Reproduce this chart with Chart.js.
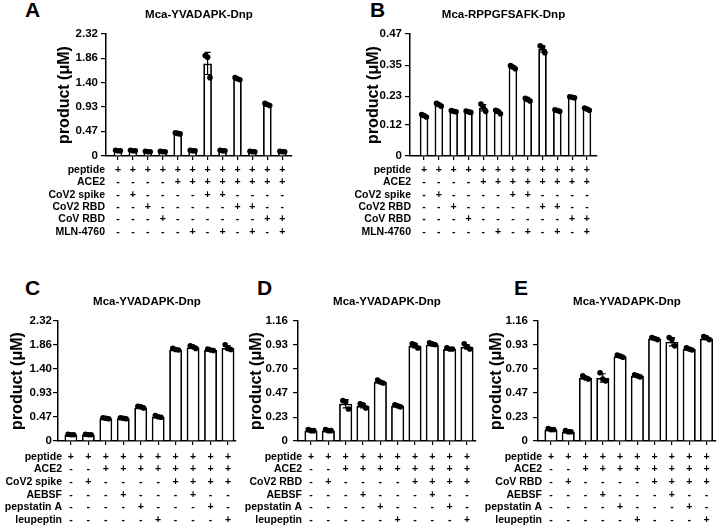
<!DOCTYPE html>
<html><head><meta charset="utf-8">
<script src="https://cdn.jsdelivr.net/npm/chart.js@4/dist/chart.umd.min.js"></script>
<style>
html,body{margin:0;padding:0;background:#fff;}
body{width:720px;height:526px;position:relative;overflow:hidden;font-family:"Liberation Sans",Arial,sans-serif;}
canvas.panel{position:absolute;}
.letter{position:absolute;font:bold 21px "Liberation Sans",Arial,sans-serif;line-height:21px;color:#000;}
</style></head><body>
<div class="letter" style="left:25px;top:-1px">A</div>
<div class="letter" style="left:370px;top:-1px">B</div>
<div class="letter" style="left:25px;top:277px">C</div>
<div class="letter" style="left:257px;top:277px">D</div>
<div class="letter" style="left:514px;top:277px">E</div>
<canvas id="cA" class="panel" style="left:0;top:0" width="300" height="250"></canvas>
<canvas id="cB" class="panel" style="left:340px;top:0" width="380" height="250"></canvas>
<canvas id="cC" class="panel" style="left:0;top:270px" width="240" height="256"></canvas>
<canvas id="cD" class="panel" style="left:240px;top:270px" width="240" height="256"></canvas>
<canvas id="cE" class="panel" style="left:480px;top:270px" width="240" height="256"></canvas>
<script>
// ---------- data ----------
const titleA = 'Mca-YVADAPK-Dnp';
const titleB = 'Mca-RPPGFSAFK-Dnp';
const titleC = 'Mca-YVADAPK-Dnp';
const titleD = 'Mca-YVADAPK-Dnp';
const titleE = 'Mca-YVADAPK-Dnp';
const yAxisTitle = 'product (μM)';

const yTicksA = [0, 0.47, 0.93, 1.40, 1.86, 2.32];
const yTickLabelsA = ['0', '0.47', '0.93', '1.40', '1.86', '2.32'];
const yTicksB = [0, 0.12, 0.23, 0.35, 0.47];
const yTickLabelsB = ['0', '0.12', '0.23', '0.35', '0.47'];
const yTicksC = [0, 0.47, 0.93, 1.40, 1.86, 2.32];
const yTickLabelsC = ['0', '0.47', '0.93', '1.40', '1.86', '2.32'];
const yTicksDE = [0, 0.23, 0.47, 0.70, 0.93, 1.16];
const yTickLabelsDE = ['0', '0.23', '0.47', '0.70', '0.93', '1.16'];

const meansA = [0.10, 0.10, 0.08, 0.08, 0.43, 0.10, 1.76, 0.10, 1.46, 0.08, 0.97, 0.08];
const errA   = [0.01, 0.01, 0.01, 0.01, 0.01, 0.01, 0.21, 0.01, 0.02, 0.01, 0.02, 0.01];
const dotsA  = [[0.11,0.10,0.10],[0.11,0.10,0.10],[0.09,0.08,0.08],[0.09,0.08,0.08],[0.44,0.43,0.42],[0.11,0.10,0.10],
                [1.91,1.88,1.49],[0.11,0.10,0.10],[1.49,1.47,1.45],[0.09,0.08,0.08],[1.00,0.98,0.96],[0.09,0.08,0.08]];

const meansB = [0.155, 0.197, 0.172, 0.170, 0.186, 0.170, 0.342, 0.217, 0.412, 0.175, 0.226, 0.180];
const errB   = [0.004, 0.004, 0.003, 0.003, 0.012, 0.005, 0.005, 0.004, 0.012, 0.003, 0.002, 0.004];
const dotsB  = [[0.160,0.156,0.150],[0.203,0.198,0.192],[0.175,0.172,0.170],[0.173,0.170,0.168],[0.200,0.188,0.172],[0.176,0.172,0.163],
                [0.348,0.343,0.336],[0.222,0.218,0.212],[0.425,0.418,0.398],[0.178,0.175,0.172],[0.228,0.226,0.224],[0.185,0.181,0.176]];

const meansC = [0.12, 0.12, 0.44, 0.44, 0.65, 0.47, 1.77, 1.81, 1.76, 1.80];
const errC   = [0.01, 0.01, 0.01, 0.01, 0.01, 0.01, 0.01, 0.02, 0.01, 0.04];
const dotsC  = [[0.13,0.12,0.12],[0.13,0.12,0.12],[0.45,0.44,0.43],[0.45,0.44,0.43],[0.67,0.66,0.64],
                [0.49,0.47,0.46],[1.79,1.77,1.76],[1.84,1.82,1.79],[1.78,1.76,1.75],[1.86,1.79,1.77]];

const meansD = [0.10, 0.10, 0.36, 0.34, 0.57, 0.34, 0.92, 0.93, 0.89, 0.91];
const errD   = [0.005, 0.005, 0.04, 0.02, 0.01, 0.01, 0.02, 0.01, 0.005, 0.02];
const dotsD  = [[0.11,0.10,0.10],[0.11,0.10,0.10],[0.39,0.38,0.31],[0.36,0.35,0.32],[0.59,0.57,0.56],
                [0.35,0.34,0.33],[0.94,0.93,0.90],[0.95,0.94,0.93],[0.90,0.89,0.89],[0.94,0.91,0.89]];

const meansE = [0.11, 0.09, 0.61, 0.61, 0.82, 0.63, 0.99, 0.96, 0.89, 0.99];
const errE   = [0.005, 0.005, 0.01, 0.04, 0.01, 0.01, 0.01, 0.04, 0.01, 0.01];
const dotsE  = [[0.12,0.11,0.11],[0.10,0.09,0.09],[0.63,0.61,0.60],[0.66,0.60,0.58],[0.83,0.82,0.81],
                [0.64,0.63,0.62],[1.00,0.99,0.98],[1.00,0.98,0.92],[0.90,0.89,0.88],[1.01,1.00,0.98]];

const rowLabelsAB = ['peptide', 'ACE2', 'CoV2 spike', 'CoV2 RBD', 'CoV RBD', 'MLN-4760'];
const rowSignsAB  = ['++++++++++++', '----++++++++', '-+----++----', '--+-----++--', '---+------++', '-----+-+-+-+'];
const rowLabelsC  = ['peptide', 'ACE2', 'CoV2 spike', 'AEBSF', 'pepstatin A', 'leupeptin'];
const rowLabelsD  = ['peptide', 'ACE2', 'CoV2 RBD', 'AEBSF', 'pepstatin A', 'leupeptin'];
const rowLabelsE  = ['peptide', 'ACE2', 'CoV RBD', 'AEBSF', 'pepstatin A', 'leupeptin'];
const rowSignsCDE = ['++++++++++', '--++++++++', '-+----++++', '---+---+--', '----+---+-', '-----+---+'];

// ---------- rendering ----------
const FONT = '"Liberation Sans", Arial, sans-serif';
Chart.defaults.font.family = FONT;
Chart.defaults.color = '#000';

const errPlugin = {
  id: 'errBars',
  beforeDatasetDraw(chart, args, o) {
    if (args.index !== 1) return;
    const xs = chart.scales.x, ys = chart.scales.y, ctx = chart.ctx;
    ctx.save(); ctx.strokeStyle = '#000'; ctx.lineWidth = 1.2;
    o.means.forEach((m, i) => {
      const e = o.errs[i]; if (!e) return;
      const px = xs.getPixelForValue(i);
      const yt = ys.getPixelForValue(m + e), yb = ys.getPixelForValue(Math.max(0, m - e));
      ctx.beginPath();
      ctx.moveTo(px, yt); ctx.lineTo(px, yb);
      ctx.moveTo(px - 3, yt); ctx.lineTo(px + 3, yt);
      ctx.moveTo(px - 3, yb); ctx.lineTo(px + 3, yb);
      ctx.stroke();
    });
    ctx.restore();
  }
};

const tablePlugin = {
  id: 'condTable',
  afterDraw(chart, args, o) {
    const ctx = chart.ctx, xs = chart.scales.x, bottom = chart.chartArea.bottom;
    ctx.save();
    ctx.font = 'bold 10.5px ' + FONT; ctx.fillStyle = '#000'; ctx.textBaseline = 'middle';
    o.labels.forEach((lab, r) => {
      const y = bottom + o.rowStart + r * o.rowStep;
      ctx.textAlign = 'right'; ctx.fillText(lab, o.labelX, y);
      ctx.textAlign = 'center';
      [...o.signs[r]].forEach((s, i) => ctx.fillText(s, xs.getPixelForValue(i), y));
    });
    ctx.restore();
  }
};

function makePanel(id, d, g) {
  const offs = [-0.16, 0, 0.16];
  const pts = [];
  d.dots.forEach((arr, i) => arr.forEach((v, j) => pts.push({x: i + offs[j], y: v})));
  return new Chart(document.getElementById(id), {
    type: 'bar',
    data: {
      datasets: [
        { type: 'bar', data: d.means.map((v, i) => ({x: i, y: v})), backgroundColor: '#fff', borderColor: '#000',
          borderWidth: 1.8, barPercentage: g.barPct, categoryPercentage: 1, order: 2 },
        { type: 'scatter', data: pts, backgroundColor: '#000', borderColor: '#000', borderWidth: 0,
          pointRadius: 2.8, order: 1 }
      ]
    },
    options: {
      responsive: false, animation: false, events: [],
      layout: { padding: { left: 0, right: g.padRight, top: 0, bottom: 0 } },
      plugins: {
        legend: { display: false }, tooltip: { enabled: false },
        title: { display: true, text: d.title, fullSize: false, color: '#000',
                 font: { size: 11.5, weight: 'bold', lineHeight: 1.2 }, padding: g.titlePad },
        errBars: { means: d.means, errs: d.errs },
        condTable: { labels: d.rowLabels, signs: d.rowSigns, labelX: g.labelX, rowStart: g.rowStart, rowStep: g.rowStep }
      },
      scales: {
        x: { type: 'linear', min: g.xmin, max: g.xmax, offset: false,
             afterBuildTicks: s => { s.ticks = d.means.map((_, i) => ({value: i})); },
             afterFit: s => { s.height = g.xHeight; },
             ticks: { display: false },
             grid: { display: true, drawOnChartArea: false, drawTicks: true, tickLength: 4, color: '#000', lineWidth: 1.2, offset: false },
             border: { display: true, color: '#000', width: 1.5 } },
        y: { type: 'linear', min: 0, max: d.yTicks[d.yTicks.length - 1],
             afterBuildTicks: s => { s.ticks = d.yTicks.map(v => ({value: v})); },
             afterFit: s => { s.width = g.yWidth; },
             ticks: { callback: (v, i) => d.yTickLabels[i], font: { size: 11.5, weight: 'bold' }, color: '#000', padding: g.tickPad },
             grid: { display: true, drawOnChartArea: false, drawTicks: true, tickLength: 5, color: '#000', lineWidth: 1.2 },
             border: { display: true, color: '#000', width: 1.5 },
             title: { display: true, text: yAxisTitle, color: '#000', font: { size: 16, weight: 'bold', lineHeight: 1.2 },
                      padding: { top: g.yTitlePad, bottom: 0 } } }
      }
    },
    plugins: [errPlugin, tablePlugin]
  });
}

makePanel('cA', { title: titleA, means: meansA, errs: errA, dots: dotsA, yTicks: yTicksA, yTickLabels: yTickLabelsA, rowLabels: rowLabelsAB, rowSigns: rowSignsAB },
  { padRight: 8, yWidth: 106, xHeight: 94, titlePad: {top: 8, bottom: 12.2}, yTitlePad: 55.4, xmin: -0.8, xmax: 11.65, barPct: 0.58,
    tickPad: 3, labelX: 105, rowStart: 14, rowStep: 12.4 });
makePanel('cB', { title: titleB, means: meansB, errs: errB, dots: dotsB, yTicks: yTicksB, yTickLabels: yTickLabelsB, rowLabels: rowLabelsAB, rowSigns: rowSignsAB },
  { padRight: 123, yWidth: 70, xHeight: 94, titlePad: {top: 8, bottom: 12.2}, yTitlePad: 24.4, xmin: -0.95, xmax: 11.68, barPct: 0.58,
    tickPad: 3, labelX: 71, rowStart: 14, rowStep: 12.4 });
makePanel('cC', { title: titleC, means: meansC, errs: errC, dots: dotsC, yTicks: yTicksC, yTickLabels: yTickLabelsC, rowLabels: rowLabelsC, rowSigns: rowSignsCDE },
  { padRight: 3, yWidth: 58, xHeight: 85, titlePad: {top: 25.1, bottom: 12.1}, yTitlePad: 7.9, xmin: -0.74, xmax: 9.46, barPct: 0.74,
    tickPad: 1, labelX: 62, rowStart: 16, rowStep: 12.6 });
makePanel('cD', { title: titleD, means: meansD, errs: errD, dots: dotsD, yTicks: yTicksDE, yTickLabels: yTickLabelsDE, rowLabels: rowLabelsD, rowSigns: rowSignsCDE },
  { padRight: 3, yWidth: 58, xHeight: 85, titlePad: {top: 25.1, bottom: 12.1}, yTitlePad: 7.4, xmin: -0.75, xmax: 9.52, barPct: 0.76,
    tickPad: 5, labelX: 62, rowStart: 16, rowStep: 12.6 });
makePanel('cE', { title: titleE, means: meansE, errs: errE, dots: dotsE, yTicks: yTicksDE, yTickLabels: yTickLabelsDE, rowLabels: rowLabelsE, rowSigns: rowSignsCDE },
  { padRight: 2, yWidth: 58, xHeight: 85, titlePad: {top: 25.1, bottom: 12.1}, yTitlePad: 7.4, xmin: -0.75, xmax: 9.55, barPct: 0.76,
    tickPad: 5, labelX: 62, rowStart: 16, rowStep: 12.6 });
</script>
</body></html>
